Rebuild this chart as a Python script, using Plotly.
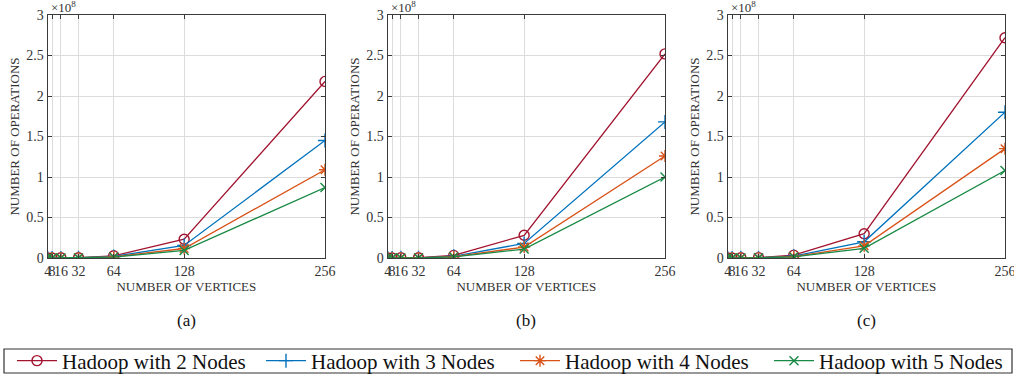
import plotly.graph_objects as go

vertices = [4, 8, 16, 32, 64, 128, 256]
series_names = ["Hadoop with 2 Nodes", "Hadoop with 3 Nodes", "Hadoop with 4 Nodes", "Hadoop with 5 Nodes"]

# values in units of 1e8 operations
panel_a = {
    "Hadoop with 2 Nodes": [0.00004, 0.0003, 0.0022, 0.0035, 0.027, 0.232, 2.18],
    "Hadoop with 3 Nodes": [0.00003, 0.0002, 0.0015, 0.0024, 0.019, 0.155, 1.45],
    "Hadoop with 4 Nodes": [0.00002, 0.00015, 0.0011, 0.0018, 0.014, 0.117, 1.09],
    "Hadoop with 5 Nodes": [0.00002, 0.00012, 0.0009, 0.0015, 0.011, 0.094, 0.87],
}
panel_b = {
    "Hadoop with 2 Nodes": [0.00005, 0.0004, 0.0025, 0.004, 0.032, 0.28, 2.52],
    "Hadoop with 3 Nodes": [0.00003, 0.0003, 0.0017, 0.0027, 0.021, 0.18, 1.68],
    "Hadoop with 4 Nodes": [0.00002, 0.0002, 0.0013, 0.002, 0.016, 0.135, 1.26],
    "Hadoop with 5 Nodes": [0.00002, 0.00015, 0.001, 0.0016, 0.013, 0.11, 1.00],
}
panel_c = {
    "Hadoop with 2 Nodes": [0.00005, 0.0004, 0.0027, 0.0043, 0.035, 0.30, 2.72],
    "Hadoop with 3 Nodes": [0.00003, 0.0003, 0.0018, 0.0029, 0.023, 0.20, 1.80],
    "Hadoop with 4 Nodes": [0.00002, 0.0002, 0.0014, 0.0022, 0.017, 0.15, 1.35],
    "Hadoop with 5 Nodes": [0.00002, 0.00015, 0.0011, 0.0017, 0.014, 0.12, 1.08],
}
panels = [panel_a, panel_b, panel_c]
panel_labels = ["(a)", "(b)", "(c)"]

y_ticks = [0, 0.5, 1, 1.5, 2, 2.5, 3]
y_ticktext = ["0", "0.5", "1", "1.5", "2", "2.5", "3"]

colors = {
    "Hadoop with 2 Nodes": "#A2142F",
    "Hadoop with 3 Nodes": "#0072BD",
    "Hadoop with 4 Nodes": "#D95319",
    "Hadoop with 5 Nodes": "#188A45",
}
symbols = {
    "Hadoop with 2 Nodes": "circle-open",
    "Hadoop with 3 Nodes": "cross-thin-open",
    "Hadoop with 4 Nodes": "asterisk-open",
    "Hadoop with 5 Nodes": "x-thin-open",
}
msize = {
    "Hadoop with 2 Nodes": 10,
    "Hadoop with 3 Nodes": 10,
    "Hadoop with 4 Nodes": 10,
    "Hadoop with 5 Nodes": 9,
}

W, H = 1014, 378
FONT = "Liberation Serif"
x_domains = [(47.7 / W, 325 / W), (387.7 / W, 665 / W), (727.7 / W, 1005 / W)]
y_domain = (1 - 258 / H, 1 - 15 / H)
legend_left_px = [12, 261, 515, 769]

fig = go.Figure()
for i, (panel, dom) in enumerate(zip(panels, x_domains)):
    xa = "x" if i == 0 else f"x{i+1}"
    ya = "y" if i == 0 else f"y{i+1}"
    for k, name in enumerate(series_names):
        fig.add_trace(go.Scatter(
            x=vertices, y=panel[name], mode="lines+markers", name=name,
            xaxis=xa, yaxis=ya, showlegend=(i == 0),
            legend="legend" if k == 0 else f"legend{k+1}",
            line=dict(color=colors[name], width=1.3),
            marker=dict(symbol=symbols[name], size=msize[name], color=colors[name],
                        line=dict(color=colors[name], width=1.4)),
        ))
    axis_common = dict(showline=True, linecolor="#3a3a3a", linewidth=1.2, mirror="ticks",
                       ticks="inside", ticklen=4, tickcolor="#3a3a3a",
                       showgrid=True, gridcolor="#dcdcdc", gridwidth=1, zeroline=False,
                       automargin=False, ticklabeloverflow="allow",
                       tickfont=dict(family=FONT, size=14, color="#333333"))
    xkey = "xaxis" if i == 0 else f"xaxis{i+1}"
    ykey = "yaxis" if i == 0 else f"yaxis{i+1}"
    fig.layout[xkey] = dict(
        domain=list(dom), anchor=ya, range=[4, 256], tickmode="array",
        tickvals=vertices, ticktext=[str(v) for v in vertices], tickangle=0,
        title=dict(text="NUMBER OF VERTICES", font=dict(family=FONT, size=13, color="#333333"),
                   standoff=2),
        **axis_common)
    fig.layout[ykey] = dict(
        domain=list(y_domain), anchor=xa, range=[0, 3], tickmode="array",
        tickvals=y_ticks, ticktext=y_ticktext,
        title=dict(text="NUMBER OF OPERATIONS", font=dict(family=FONT, size=13, color="#333333"),
                   standoff=3),
        **axis_common)
    # exponent label
    fig.add_annotation(text="×10<sup>8</sup>", xref="paper", yref="paper",
                       x=dom[0] + 1 / W, y=1 - 17 / H, xanchor="left", yanchor="bottom",
                       showarrow=False, font=dict(family=FONT, size=13, color="#333333"))
    # panel label
    fig.add_annotation(text=panel_labels[i], xref="paper", yref="paper",
                       x=(dom[0] + dom[1]) / 2, y=1 - 320 / H, xanchor="center", yanchor="middle",
                       showarrow=False, font=dict(family=FONT, size=17, color="#111111"))

# legend frame
fig.add_shape(type="rect", xref="paper", yref="paper",
              x0=4 / W, x1=1012 / W, y0=1 - 373 / H, y1=1 - 349 / H,
              line=dict(color="#333333", width=1.2), fillcolor="rgba(0,0,0,0)")

legend_style = dict(orientation="h", xanchor="left", yanchor="middle", y=1 - 361 / H,
                    xref="container", yref="container",
                    borderwidth=0, bgcolor="rgba(0,0,0,0)", itemwidth=40,
                    font=dict(family=FONT, size=21, color="#111111"))
layout_legends = {}
for k in range(4):
    key = "legend" if k == 0 else f"legend{k+1}"
    layout_legends[key] = dict(x=legend_left_px[k] / W, **legend_style)

fig.update_layout(
    width=W, height=H, margin=dict(l=0, r=0, t=0, b=0, autoexpand=False),
    paper_bgcolor="white", plot_bgcolor="white",
    font=dict(family=FONT, color="#111111"),
    **layout_legends,
)

fig.write_html("out.html", config={"displayModeBar": False},
               post_script="document.body.style.margin='0';document.body.style.overflow='hidden';")
